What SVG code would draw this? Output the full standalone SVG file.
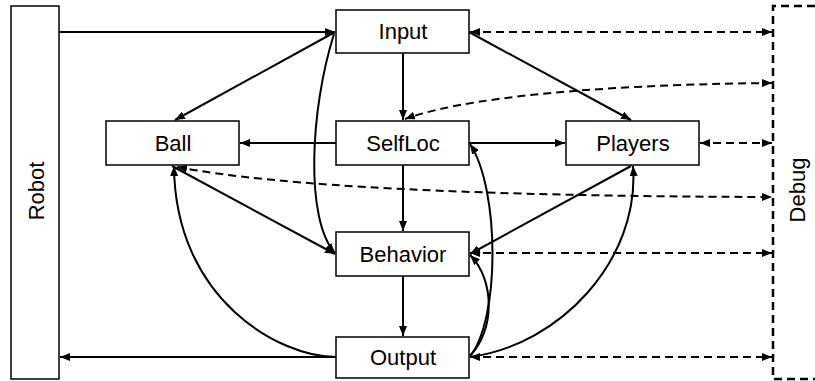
<svg xmlns="http://www.w3.org/2000/svg" width="815" height="381" viewBox="0 0 815 381">
  <defs>
    <marker id="head" markerUnits="userSpaceOnUse" markerWidth="10" markerHeight="8" refX="10" refY="4" orient="auto-start-reverse">
      <path d="M0,0 L10,4 L0,8 Z" fill="#000"/>
    </marker>
    <style>
      .box { fill: #fff; stroke: #000; stroke-width: 1.5; }
      .lbl { font-family: "Liberation Sans", Arial, sans-serif; font-size: 22px; fill: #000; text-anchor: middle; }
      .solid { fill: none; stroke: #000; stroke-width: 2; marker-end: url(#head); }
      .dash { fill: none; stroke: #000; stroke-width: 2; stroke-dasharray: 8 5; marker-start: url(#head); marker-end: url(#head); }
    </style>
  </defs>
  <rect width="815" height="381" fill="#fff"/>

  <!-- side blocks -->
  <g id="robot">
    <rect class="box" x="11" y="6" width="48" height="373"/>
    <text class="lbl" transform="translate(44,191) rotate(-90)">Robot</text>
  </g>
  <g id="debug">
    <path d="M815,6 H773 V379 H815" fill="none" stroke="#000" stroke-width="2.5" stroke-dasharray="8 5"/>
    <text class="lbl" transform="translate(805,190) rotate(-90)">Debug</text>
  </g>

  <!-- connectors -->
  <g id="connectors">
    <path class="solid" d="M59,32 H335"/>
    <path class="solid" d="M335,32 L175,120"/>
    <path class="solid" d="M403,53 V120"/>
    <path class="solid" d="M469,32 L631,120"/>
    <path class="dash" d="M470,32 H772"/>
    <path class="dash" d="M772,83 C650,84 480,92 405,119"/>
    <path class="solid" d="M336,143 H240"/>
    <path class="solid" d="M469,143 H565"/>
    <path class="dash" d="M700,143 H772"/>
    <path class="solid" d="M403,165 V231"/>
    <path class="solid" d="M172,166 L335,254"/>
    <path class="dash" d="M177,167 Q330,196 772,197"/>
    <path class="solid" d="M334,34 C310,110 305,220 335,253"/>
    <path class="solid" d="M336,357 C280,357 175,300 174,166"/>
    <path class="solid" d="M336,357 H60"/>
    <path class="solid" d="M403,276 V336"/>
    <path class="solid" d="M631,166 L470,254"/>
    <path class="solid" d="M470,357 C560,345 640,260 633,166"/>
    <path class="solid" d="M470,356 C500,320 500,190 470,144"/>
    <path class="solid" d="M470,356 C495,330 495,280 470,255"/>
    <path class="dash" d="M470,253 H772"/>
    <path class="dash" d="M470,357 H772"/>
  </g>

  <!-- nodes -->
  <g id="input">
    <rect class="box" x="336" y="10" width="133" height="43"/>
    <text class="lbl" x="403" y="39">Input</text>
  </g>
  <g id="ball">
    <rect class="box" x="106" y="121" width="133" height="44"/>
    <text class="lbl" x="173" y="151">Ball</text>
  </g>
  <g id="selfloc">
    <rect class="box" x="336" y="121" width="133" height="44"/>
    <text class="lbl" x="403" y="151">SelfLoc</text>
  </g>
  <g id="players">
    <rect class="box" x="566" y="121" width="133" height="44"/>
    <text class="lbl" x="633" y="151">Players</text>
  </g>
  <g id="behavior">
    <rect class="box" x="336" y="232" width="133" height="44"/>
    <text class="lbl" x="403" y="262">Behavior</text>
  </g>
  <g id="output">
    <rect class="box" x="336" y="337" width="133" height="41"/>
    <text class="lbl" x="403" y="365">Output</text>
  </g>
</svg>
